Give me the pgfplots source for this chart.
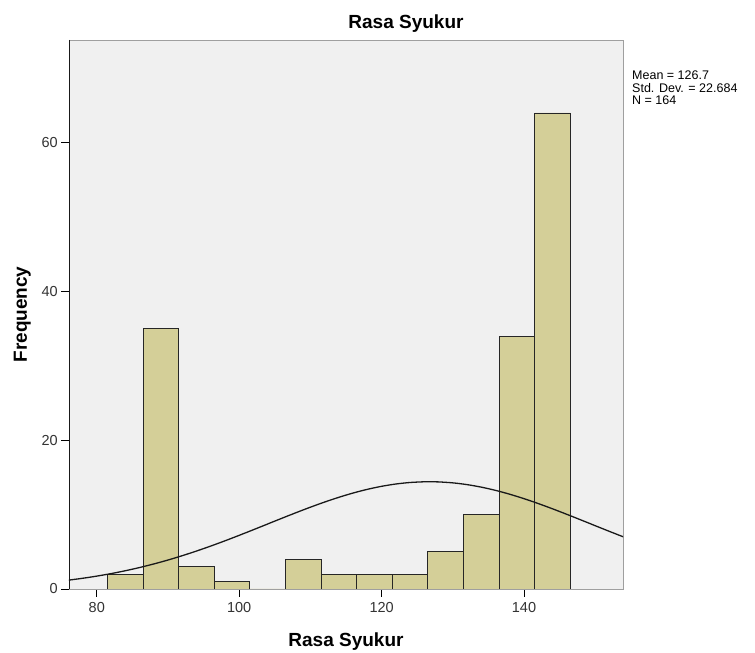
\documentclass[border=0pt]{standalone}
\usepackage{fontspec}
\setmainfont{Liberation Sans}
\usepackage{pgfplots}
\pgfplotsset{compat=1.18}
\definecolor{barfill}{RGB}{212,207,152}
\definecolor{plotbg}{RGB}{240,240,240}

\begin{document}
\begin{tikzpicture}
\useasboundingbox (-69pt,-64pt) rectangle (686pt,589pt);
\begin{axis}[
    name=ax,
    scale only axis,
    width=554pt, height=549pt,
    at={(0pt,0pt)}, anchor=south west,
    xmin=76.1, xmax=153.9,
    ymin=0, ymax=73.8,
    xtick={80,100,120,140},
    ytick={0,20,40,60},
    xtick pos=bottom, ytick pos=left,
    tick align=outside,
    major tick length=7.5pt,
    tick style={black, line width=0.8pt},
    axis background/.style={fill=plotbg},
    axis line style={gray!75, line width=0.8pt},
    ticklabel style={font=\fontsize{14.5}{16}\selectfont, text=black!80, inner sep=0pt},
    xticklabel style={yshift=-6pt},
    yticklabel style={xshift=-3.5pt},
    /pgf/number format/assume math mode=true,
]
% histogram (bin edges, counts)
\addplot[ybar interval, fill=barfill, draw=black!85, line width=0.8pt] coordinates {
    (81.5,2) (86.5,35) (91.5,3) (96.5,1) (101.5,0) (106.5,4) (111.5,2)
    (116.5,2) (121.5,2) (126.5,5) (131.5,10) (136.5,34) (141.5,64) (146.5,0)
};
% normal curve, mean 126.7, sd 22.684, N 164
\addplot[black!90, line width=1.3pt, smooth] coordinates {
    (76,1.186) (78,1.439) (80,1.732) (82,2.069) (84,2.453) (86,2.884)
    (88,3.365) (90,3.895) (92,4.476) (94,5.102) (96,5.771) (98,6.476)
    (100,7.213) (102,7.972) (104,8.740) (106,9.509) (108,10.266) (110,10.997)
    (112,11.689) (114,12.328) (116,12.902) (118,13.398) (120,13.804) (122,14.114)
    (124,14.318) (126,14.413) (126.7,14.42) (128,14.396) (130,14.268) (132,14.032)
    (134,13.692) (136,13.258) (138,12.737) (140,12.143) (142,11.486) (144,10.781)
    (146,10.041) (148,9.279) (150,8.509) (152,7.742) (154,6.989)
};
\draw[black!90, line width=0.9pt] (rel axis cs:0,1) -- (rel axis cs:0,0) -- (rel axis cs:1,0);
\end{axis}

\node[font=\bfseries\fontsize{19}{22}\selectfont, anchor=base]
    at ([xshift=337pt, yshift=11.5pt]ax.north west) {Rasa Syukur};
\node[font=\bfseries\fontsize{19}{22}\selectfont, anchor=base]
    at ([yshift=-58pt]ax.south) {Rasa Syukur};
\node[font=\bfseries\fontsize{19}{22}\selectfont, anchor=base, rotate=90]
    at ([xshift=-42pt]ax.west) {Frequency};
\node[font=\fontsize{12.5}{12.2}\selectfont, align=left, anchor=north west, inner sep=0pt]
    at ([xshift=9pt, yshift=-31pt]ax.north east) {Mean = 126.7\\Std. Dev. = 22.684\\N = 164};
\end{tikzpicture}
\end{document}
